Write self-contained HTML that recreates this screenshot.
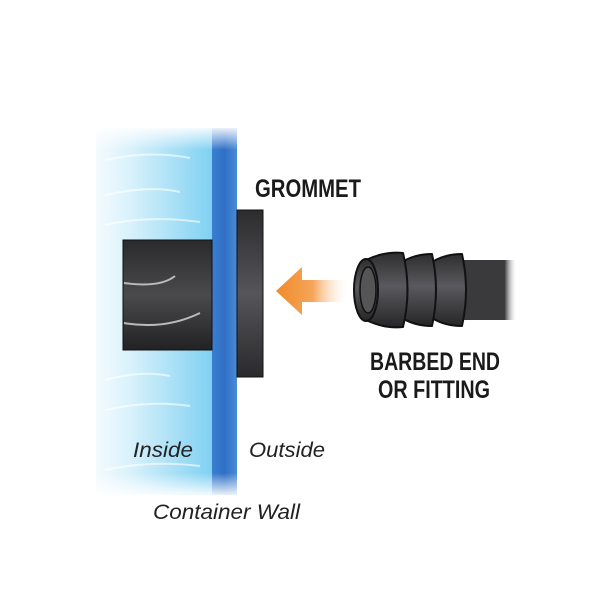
<!DOCTYPE html>
<html><head><style>
html,body{margin:0;padding:0;background:#fff;width:600px;height:600px;overflow:hidden}
</style></head><body>
<svg width="600" height="600" viewBox="0 0 600 600" xmlns="http://www.w3.org/2000/svg">
<defs>
<linearGradient id="water" x1="0" x2="1" y1="0" y2="0">
<stop offset="0" stop-color="#f4fbfe"/><stop offset="0.3" stop-color="#d8f1fb"/><stop offset="1" stop-color="#7fd0f2"/>
</linearGradient>
<linearGradient id="wallv" x1="0" x2="0" y1="0" y2="1">
<stop offset="0" stop-color="#fff" stop-opacity="0.9"/><stop offset="0.06" stop-color="#fff" stop-opacity="0"/>
<stop offset="0.94" stop-color="#fff" stop-opacity="0"/><stop offset="1" stop-color="#fff" stop-opacity="0.9"/>
</linearGradient>
<linearGradient id="wall" x1="0" x2="1"><stop offset="0" stop-color="#3b7fd0"/><stop offset="0.5" stop-color="#2f6fc6"/><stop offset="1" stop-color="#4a8ad6"/></linearGradient>
<linearGradient id="dark" x1="0" x2="0" y1="0" y2="1">
<stop offset="0" stop-color="#2a2a2c"/><stop offset="0.5" stop-color="#4a4a4d"/><stop offset="1" stop-color="#222224"/>
</linearGradient>
<linearGradient id="gr" x1="0" x2="0" y1="0" y2="1"><stop offset="0" stop-color="#2c2c2e"/><stop offset="0.5" stop-color="#55555a"/><stop offset="1" stop-color="#2a2a2c"/></linearGradient>
<linearGradient id="arrow" x1="0" x2="1"><stop offset="0" stop-color="#f08a2a"/><stop offset="0.5" stop-color="#f5a55a"/><stop offset="1" stop-color="#fff" stop-opacity="0"/></linearGradient>
<linearGradient id="pipe" x1="0" x2="1"><stop offset="0" stop-color="#3a3a3d"/><stop offset="0.8" stop-color="#3a3a3d"/><stop offset="1" stop-color="#fff" stop-opacity="0"/></linearGradient>
<linearGradient id="pipev" x1="0" x2="0" y1="0" y2="1"><stop offset="0" stop-color="#2e2e30"/><stop offset="0.45" stop-color="#5a5a5e"/><stop offset="1" stop-color="#262628"/></linearGradient>
</defs>
<rect x="96" y="128" width="117" height="367" fill="url(#water)"/>
<g stroke="#fff" stroke-opacity="0.6" stroke-width="2" fill="none">
<path d="M105 160 Q150 150 190 158"/><path d="M105 195 Q150 185 180 192"/><path d="M105 225 Q150 215 200 222"/>
<path d="M105 380 Q140 370 170 376"/><path d="M105 410 Q150 400 190 406"/><path d="M105 470 Q150 460 200 466"/>
</g>
<rect x="212" y="128" width="25" height="367" fill="url(#wall)"/>
<rect x="96" y="128" width="141" height="367" fill="url(#wallv)"/>
<rect x="123" y="240" width="89" height="110" fill="url(#dark)" stroke="#111" stroke-width="1"/>
<path d="M124 283 Q160 288 175 276" stroke="#bbb" stroke-width="2" fill="none"/>
<path d="M124 323 Q165 330 200 313" stroke="#bbb" stroke-width="2" fill="none"/>
<rect x="237" y="210" width="26" height="167" fill="url(#gr)" stroke="#111" stroke-width="1"/>
<path d="M276 291 L302 267 L302 280 L350 280 L350 302 L302 302 L302 315 Z" fill="url(#arrow)"/>
<rect x="455" y="260" width="62" height="60" fill="url(#pipe)"/>
<g stroke="#111" stroke-width="2" fill="url(#pipev)" stroke-linejoin="round">
<path d="M432 262 Q445 254 462 254 Q470 290 462 326 Q445 326 432 318 Z"/>
<path d="M402 262 Q415 254 432 254 Q440 290 432 326 Q415 326 402 318 Z"/>
<path d="M366 260 Q385 251 403 253 Q412 290 403 327 Q385 329 366 320 Z"/>
<ellipse cx="366" cy="290" rx="12" ry="31"/>
<ellipse cx="368" cy="290" rx="8" ry="23" fill="#555" stroke-width="1.5"/>
</g>
<g font-family="'Liberation Sans Narrow','Liberation Sans',sans-serif" font-weight="bold" fill="#1a1a1a" font-size="25">
<text x="255" y="197" textLength="106" lengthAdjust="spacingAndGlyphs">GROMMET</text>
<text x="370" y="370" textLength="130" lengthAdjust="spacingAndGlyphs">BARBED END</text>
<text x="378" y="398" textLength="112" lengthAdjust="spacingAndGlyphs">OR FITTING</text>
</g>
<g font-family="'Liberation Sans',sans-serif" font-style="italic" fill="#222" font-size="21">
<text x="133" y="457" textLength="60" lengthAdjust="spacingAndGlyphs">Inside</text>
<text x="249" y="457" textLength="76" lengthAdjust="spacingAndGlyphs">Outside</text>
<text x="153" y="519" textLength="147" lengthAdjust="spacingAndGlyphs">Container Wall</text>
</g>
</svg>
</body></html>
